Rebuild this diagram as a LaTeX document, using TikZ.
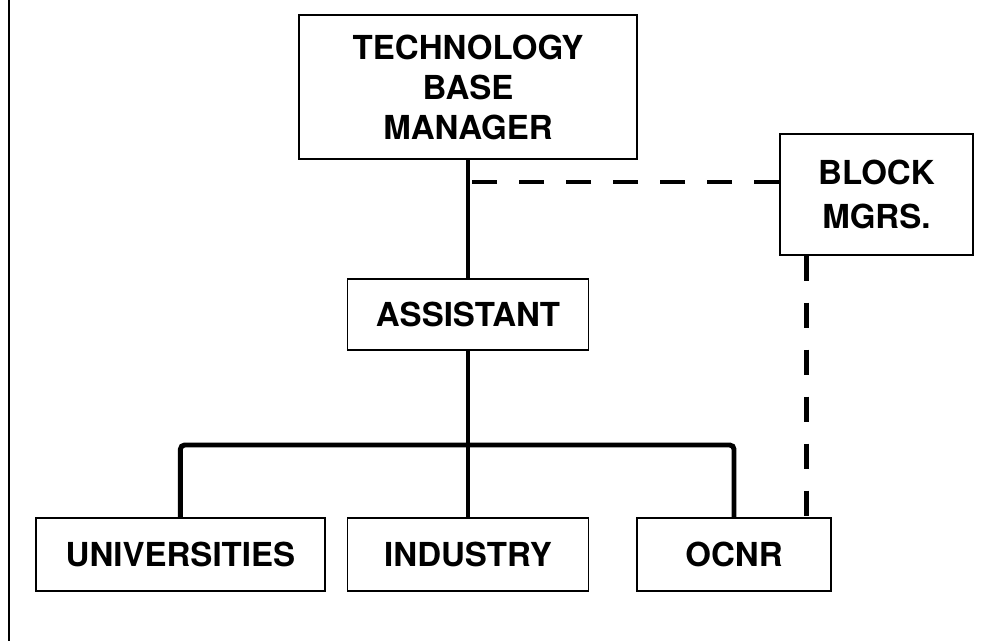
\documentclass[tikz,border=0pt]{standalone}
\usepackage{fontspec}
\setmainfont{TeX Gyre Heros}
\begin{document}
\begin{tikzpicture}[
  box/.style={draw, line width=1pt, inner sep=0pt, align=center,
    font=\fontsize{23.5}{28.5}\selectfont\bfseries},
  conn/.style={line width=3.5pt},
  dashconn/.style={line width=3.5pt, dash pattern=on 0.625cm off 0.55cm}]
  \useasboundingbox (0,0) rectangle (24.775,-16.025);
  \draw[line width=1.2pt] (0.225,0) -- (0.225,-16.025);
  \node[box, minimum width=8.45cm, minimum height=3.6cm, text depth=0pt] (tbm) at (11.7,-2.175) {TECHNOLOGY\\BASE\\MANAGER};
  \node[box, minimum width=4.825cm, minimum height=3.025cm] (block) at (21.91,-4.86) {BLOCK\\[3pt]MGRS.};
  \node[box, minimum width=6.025cm, minimum height=1.775cm] (asst) at (11.7,-7.86) {ASSISTANT};
  \node[box, minimum width=7.225cm, minimum height=1.825cm] (univ) at (4.51,-13.86) {UNIVERSITIES};
  \node[box, minimum width=6.025cm, minimum height=1.825cm] (ind) at (11.7,-13.86) {INDUSTRY};
  \node[box, minimum width=4.85cm, minimum height=1.825cm] (ocnr) at (18.35,-13.86) {OCNR};
  % bus and taps
  \coordinate (bus) at (0,-11.125);
  \coordinate (tee) at (11.7,-4.55);
  \coordinate[xshift=-0.625cm] (tap) at (ocnr.north east);
  \draw[conn] (tbm.south) -- (asst.north);
  \draw[conn] (asst.south) -- (asst.south |- bus);
  \draw[conn, rounded corners=3pt] (univ.north) |- (bus -| ocnr.north) -- (ocnr.north);
  \draw[conn] (ind.north) -- (ind.north |- bus);
  \draw[dashconn] (block.west |- tee) -- (tee);
  \draw[dashconn] (tap |- block.south) -- (tap);
\end{tikzpicture}
\end{document}
